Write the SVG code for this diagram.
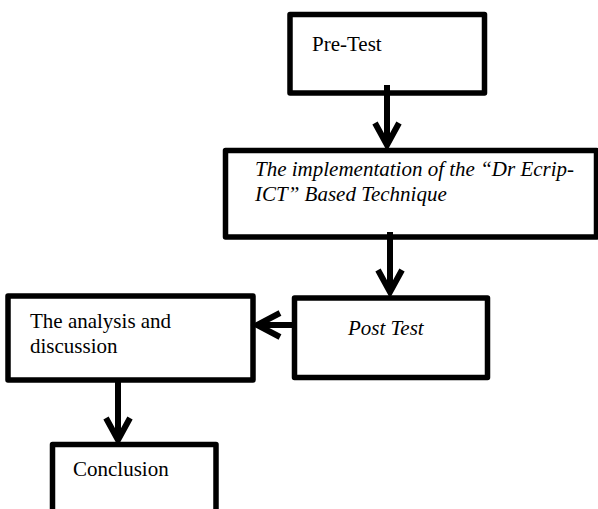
<svg xmlns="http://www.w3.org/2000/svg" width="598" height="509" viewBox="0 0 598 509">
<style>
.box{fill:#fff;stroke:#000;stroke-width:5.5;stroke-linejoin:round}
.t{font-family:"Liberation Serif","Times New Roman",serif;font-size:21px;fill:#000}
.i{font-style:italic}
.c{fill:none;stroke:#000;stroke-width:6}
.h{fill:none;stroke:#000;stroke-width:6;stroke-linejoin:miter;stroke-linecap:butt}
</style>
<rect width="598" height="509" fill="#fff"/>
<g id="n1"><rect class="box" x="290" y="14.5" width="194.5" height="78.5"/><text class="t" x="312" y="51">Pre-Test</text></g>
<g id="n2"><rect class="box" x="225.5" y="150.5" width="371" height="86.5"/><text class="t i" x="255" y="176">The implementation of the “Dr Ecrip-</text><text class="t i" x="255" y="201">ICT” Based Technique</text></g>
<g id="n3"><rect class="box" x="294.5" y="298" width="193" height="79.5"/><text class="t i" x="348" y="335">Post Test</text></g>
<g id="n4"><rect class="box" x="8" y="296" width="245" height="84"/><text class="t" x="30" y="328">The analysis and</text><text class="t" x="30" y="353">discussion</text></g>
<g id="n5"><rect class="box" x="52.5" y="444.5" width="163.5" height="70"/><text class="t" x="73" y="476">Conclusion</text></g>
<g id="connectors">
<line class="c" x1="387" y1="85" x2="387" y2="144"/><polyline class="h" points="375,123 387,145 399,123"/>
<line class="c" x1="390" y1="232" x2="390" y2="291"/><polyline class="h" points="378,270 390,292 402,270"/>
<line class="c" x1="292" y1="325" x2="258" y2="325"/><polyline class="h" points="280,313 257,325 280,337"/>
<line class="c" x1="118" y1="380" x2="118" y2="438"/><polyline class="h" points="106,418 118,440 130,418"/>
</g>
</svg>
